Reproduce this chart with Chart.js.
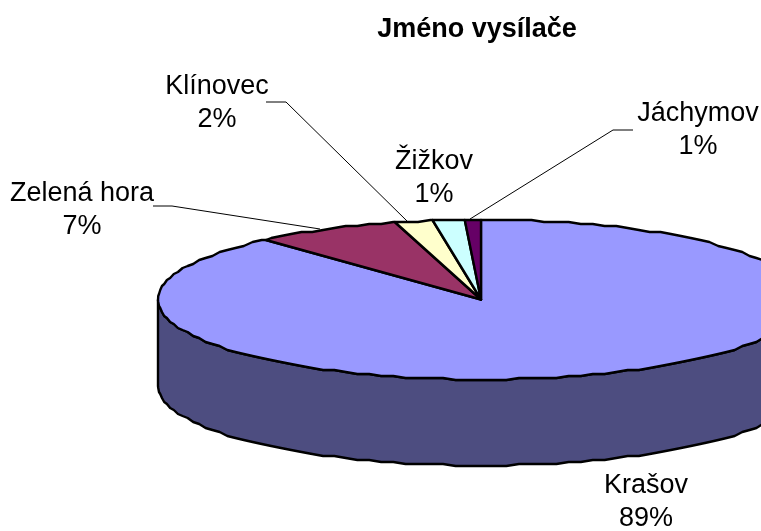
<!DOCTYPE html>
<html><head><meta charset="utf-8">
<style>html,body{margin:0;padding:0;background:#fff}canvas{display:block}</style>
<script src="https://cdn.jsdelivr.net/npm/chart.js@4/dist/chart.umd.min.js"></script>
</head><body>
<canvas id="c" width="761" height="531"></canvas>
<script>
const titleText = 'Jméno vysílače';
const categories = ['Krašov', 'Zelená hora', 'Klínovec', 'Žižkov', 'Jáchymov'];
const sharePercent = [88.4, 7.3, 1.9, 1.6, 0.8];
const shownPercent = ['89%', '7%', '2%', '1%', '1%'];
const sliceColors = ['#9999FF', '#993366', '#FFFFCC', '#CCFFFF', '#660066'];

// Appearance of the tilted pie and its callouts
const tilt = {cx: 481, cy: 299.5, rx: 323, ry: 80, depth: 86, stepDeg: 2.25, snap: 2};
const fontPx = 27;
const calloutLayout = [
  {x: 646, y: 486, line: null},
  {x: 82, y: 194, line: [[153,206],[172,206],[320,229]]},
  {x: 217, y: 87, line: [[266,102],[286,102],[407,221]]},
  {x: 434, y: 162, line: null},
  {x: 698, y: 114, line: [[633,130],[613,130],[470,219]]}
];

function pt(t, dy){
  const y = tilt.cy + tilt.ry * Math.sin(t);
  return [tilt.cx + tilt.rx * Math.cos(t), Math.round(y / tilt.snap) * tilt.snap + (dy || 0)];
}
function rimPoints(a, b, dy){
  const step = tilt.stepDeg * Math.PI / 180, pts = [pt(a, dy)];
  let k = Math.ceil(a / step + 1e-6);
  for (; k * step < b - 1e-6; k++) pts.push(pt(k * step, dy));
  pts.push(pt(b, dy));
  return pts;
}
function trace(ctx, pts, move){
  pts.forEach((p, i) => (i === 0 && move) ? ctx.moveTo(p[0], p[1]) : ctx.lineTo(p[0], p[1]));
}
function darken(hex){
  const n = parseInt(hex.slice(1), 16);
  const c = [n >> 16, (n >> 8) & 255, n & 255].map(v => Math.round(v * 0.502));
  return 'rgb(' + c.join(',') + ')';
}

const tiltedPie = {
  id: 'tiltedPie',
  beforeDatasetDraw(chart){
    const ctx = chart.ctx, arcs = chart.getDatasetMeta(0).data;
    ctx.save();
    ctx.lineJoin = 'round';
    ctx.strokeStyle = '#000';
    ctx.lineWidth = 2.4;
    // side wall
    arcs.forEach((arc, i) => {
      const p = arc.getProps(['startAngle', 'endAngle']);
      const a = Math.max(p.startAngle, 0), b = Math.min(p.endAngle, Math.PI);
      if (b <= a) return;
      const top = rimPoints(a, b, 0), bottom = rimPoints(a, b, tilt.depth);
      ctx.beginPath();
      trace(ctx, top, true);
      trace(ctx, bottom.slice().reverse(), false);
      ctx.closePath();
      ctx.fillStyle = darken(sliceColors[i]);
      ctx.fill();
      ctx.stroke();
    });
    // top faces
    arcs.forEach((arc, i) => {
      const p = arc.getProps(['startAngle', 'endAngle']);
      ctx.beginPath();
      ctx.moveTo(tilt.cx, tilt.cy);
      trace(ctx, rimPoints(p.startAngle, p.endAngle, 0), false);
      ctx.closePath();
      ctx.fillStyle = sliceColors[i];
      ctx.fill();
      ctx.stroke();
    });
    ctx.restore();
    return false;
  },
  afterDraw(chart){
    const ctx = chart.ctx;
    ctx.save();
    ctx.font = fontPx + 'px "Liberation Sans", Arial, sans-serif';
    ctx.textAlign = 'center';
    ctx.textBaseline = 'middle';
    ctx.fillStyle = '#000';
    categories.forEach((name, i) => {
      const l = calloutLayout[i];
      ctx.fillText(name, l.x, l.y);
      ctx.fillText(shownPercent[i], l.x, l.y + 33);
      if (l.line){
        ctx.beginPath();
        l.line.forEach((p, k) => k ? ctx.lineTo(p[0], p[1]) : ctx.moveTo(p[0], p[1]));
        ctx.strokeStyle = '#000';
        ctx.lineWidth = 1;
        ctx.stroke();
      }
    });
    ctx.restore();
  }
};

new Chart(document.getElementById('c'), {
  type: 'pie',
  data: {labels: categories, datasets: [{data: sharePercent, backgroundColor: sliceColors, borderColor: '#000', borderWidth: 2}]},
  options: {
    responsive: false,
    animation: false,
    layout: {padding: {left: 193, top: 8}},
    plugins: {
      legend: {display: false},
      tooltip: {enabled: false},
      title: {
        display: true, text: titleText, fullSize: false, color: '#000',
        font: {family: '"Liberation Sans", Arial, sans-serif', size: 27, weight: 'bold'},
        padding: {top: 5, bottom: 5}
      }
    }
  },
  plugins: [tiltedPie]
});
</script>
</body></html>
